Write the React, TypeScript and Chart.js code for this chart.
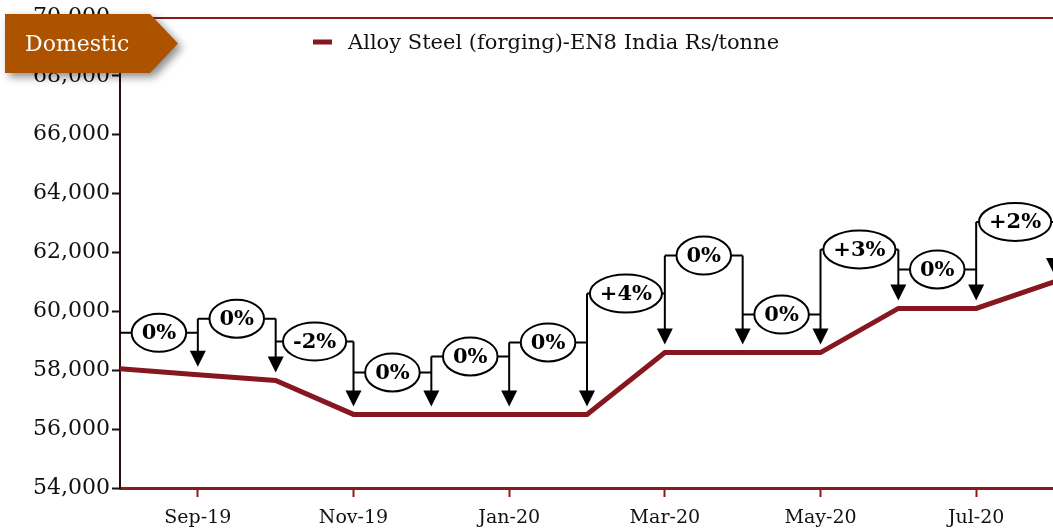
import React, { useEffect, useRef } from 'react';
import { Chart, registerables } from 'chart.js';

Chart.register(...registerables);

// ---- data ----
const months = ['Aug-19', 'Sep-19', 'Oct-19', 'Nov-19', 'Dec-19', 'Jan-20', 'Feb-20', 'Mar-20', 'Apr-20', 'May-20', 'Jun-20', 'Jul-20', 'Aug-20'];
const prices = [58050, 57850, 57650, 56500, 56500, 56500, 56500, 58600, 58600, 58600, 60100, 60100, 61000];
const changeLabels = ['0%', '0%', '-2%', '0%', '0%', '0%', '+4%', '0%', '0%', '+3%', '0%', '+2%'];
const xTickMonths = [1, 3, 5, 7, 9, 11];
const seriesLabel = 'Alloy Steel (forging)-EN8 India Rs/tonne';
const badgeLabel = 'Domestic';

// callout placement (pixels above the higher of the two neighbouring points)
const calloutLift = [36, 56, 39, 42, 58, 72, 59, 97, 38, 59, 39, 60];

const LINE_COLOR = '#86171F';
const AXIS_RED = '#8B1A1A';
const SERIF = '"DejaVu Serif", "Liberation Serif", serif';

const calloutPlugin = {
  id: 'callouts',
  afterDatasetsDraw(chart: any) {
    const { ctx } = chart;
    const xs = chart.scales.x;
    const ys = chart.scales.y;
    const levels = changeLabels.map((_, k) => {
      const i = k + 1;
      const top = Math.min(ys.getPixelForValue(prices[i - 1]), ys.getPixelForValue(prices[i]));
      return top - calloutLift[k];
    });
    ctx.save();
    ctx.strokeStyle = '#000';
    ctx.fillStyle = '#000';
    ctx.lineWidth = 2;
    // vertical arrows
    for (let i = 1; i < months.length; i++) {
      const x = xs.getPixelForValue(i);
      const topY = Math.min(levels[i - 1], i < levels.length ? levels[i] : Infinity);
      const tip = ys.getPixelForValue(prices[i]) - 8;
      ctx.beginPath();
      ctx.moveTo(x, topY);
      ctx.lineTo(x, tip - 12);
      ctx.stroke();
      ctx.beginPath();
      ctx.moveTo(x - 8, tip - 16);
      ctx.lineTo(x + 8, tip - 16);
      ctx.lineTo(x, tip);
      ctx.closePath();
      ctx.fill();
    }
    // ellipses with connectors
    ctx.font = `bold 21px ${SERIF}`;
    changeLabels.forEach((lab, k) => {
      const x0 = xs.getPixelForValue(k);
      const x1 = xs.getPixelForValue(k + 1);
      const cx = (x0 + x1) / 2;
      const cy = levels[k];
      const tw = ctx.measureText(lab).width;
      const rx = Math.min(tw / 2 + 10, (x1 - x0) / 2);
      const ry = 19;
      ctx.beginPath();
      ctx.moveTo(x0, cy);
      ctx.lineTo(cx - rx, cy);
      ctx.moveTo(cx + rx, cy);
      ctx.lineTo(x1, cy);
      ctx.stroke();
      ctx.beginPath();
      ctx.ellipse(cx, cy, rx, ry, 0, 0, Math.PI * 2);
      ctx.fillStyle = '#fff';
      ctx.fill();
      ctx.stroke();
      ctx.fillStyle = '#000';
      ctx.textAlign = 'center';
      ctx.textBaseline = 'middle';
      ctx.fillText(lab, cx, cy + 1);
    });
    ctx.restore();
  },
  afterDraw(chart: any) {
    const { ctx, chartArea } = chart;
    ctx.save();
    // top border
    ctx.strokeStyle = AXIS_RED;
    ctx.lineWidth = 2;
    ctx.beginPath();
    ctx.moveTo(chartArea.left, chartArea.top + 1);
    ctx.lineTo(chartArea.right, chartArea.top + 1);
    ctx.stroke();
    // legend
    ctx.strokeStyle = LINE_COLOR;
    ctx.lineWidth = 5;
    ctx.beginPath();
    ctx.moveTo(313, 42);
    ctx.lineTo(332, 42);
    ctx.stroke();
    ctx.fillStyle = '#111';
    ctx.font = `21px ${SERIF}`;
    ctx.textAlign = 'left';
    ctx.textBaseline = 'middle';
    ctx.fillText(chart.data.datasets[0].label, 348, 44);
    // badge
    ctx.save();
    ctx.shadowColor = 'rgba(0,0,0,0.45)';
    ctx.shadowBlur = 8;
    ctx.shadowOffsetX = 4;
    ctx.shadowOffsetY = 4;
    ctx.fillStyle = '#AD5300';
    ctx.beginPath();
    ctx.moveTo(5, 14);
    ctx.lineTo(150, 14);
    ctx.lineTo(178, 43.5);
    ctx.lineTo(150, 73);
    ctx.lineTo(5, 73);
    ctx.closePath();
    ctx.fill();
    ctx.restore();
    ctx.fillStyle = '#fff';
    ctx.font = `22px ${SERIF}`;
    ctx.textAlign = 'left';
    ctx.textBaseline = 'middle';
    ctx.fillText(badgeLabel, 25, 45);
    ctx.restore();
  },
};

export default function App() {
  const ref = useRef<HTMLCanvasElement>(null);
  useEffect(() => {
    if (!ref.current) return;
    const chart = new Chart(ref.current, {
      type: 'line',
      data: {
        datasets: [
          {
            label: seriesLabel,
            data: prices.map((p, i) => ({ x: i, y: p })),
            borderColor: LINE_COLOR,
            backgroundColor: LINE_COLOR,
            borderWidth: 5,
            pointRadius: 0,
            tension: 0,
            fill: false,
          },
        ],
      },
      options: {
        animation: false,
        responsive: false,
        layout: { padding: { top: 17, left: 0, right: 16, bottom: 0 } },
        plugins: { legend: { display: false }, tooltip: { enabled: false } },
        scales: {
          x: {
            type: 'linear',
            min: 0,
            max: months.length - 1,
            afterBuildTicks: (axis: any) => {
              axis.ticks = xTickMonths.map((v) => ({ value: v }));
            },
            afterFit: (scale: any) => {
              scale.height = 41;
            },
            ticks: {
              autoSkip: false,
              maxRotation: 0,
              callback: (v: any) => months[v] ?? '',
              font: { family: SERIF, size: 19 },
              color: '#111',
              padding: 10,
            },
            grid: { drawOnChartArea: false, tickLength: 9, tickColor: AXIS_RED, tickWidth: 2 },
            border: { color: AXIS_RED, width: 3 },
          },
          y: {
            min: 54000,
            max: 70000,
            afterFit: (scale: any) => {
              scale.width = 120;
            },
            ticks: {
              stepSize: 2000,
              callback: (v: any) => Number(v).toLocaleString('en-US'),
              font: { family: SERIF, size: 22 },
              color: '#111',
              padding: 2,
            },
            grid: { drawOnChartArea: false, tickLength: 8, tickColor: '#111', tickWidth: 2 },
            border: { color: '#2b0b0b', width: 2 },
          },
        },
      },
      plugins: [calloutPlugin],
    } as any);
    return () => chart.destroy();
  }, []);
  return (
    <div style={{ position: 'absolute', left: 0, top: 0, width: 1053, height: 529, overflow: 'hidden', background: '#fff' }}>
      <canvas ref={ref} width={1070} height={529} style={{ display: 'block' }} />
    </div>
  );
}
